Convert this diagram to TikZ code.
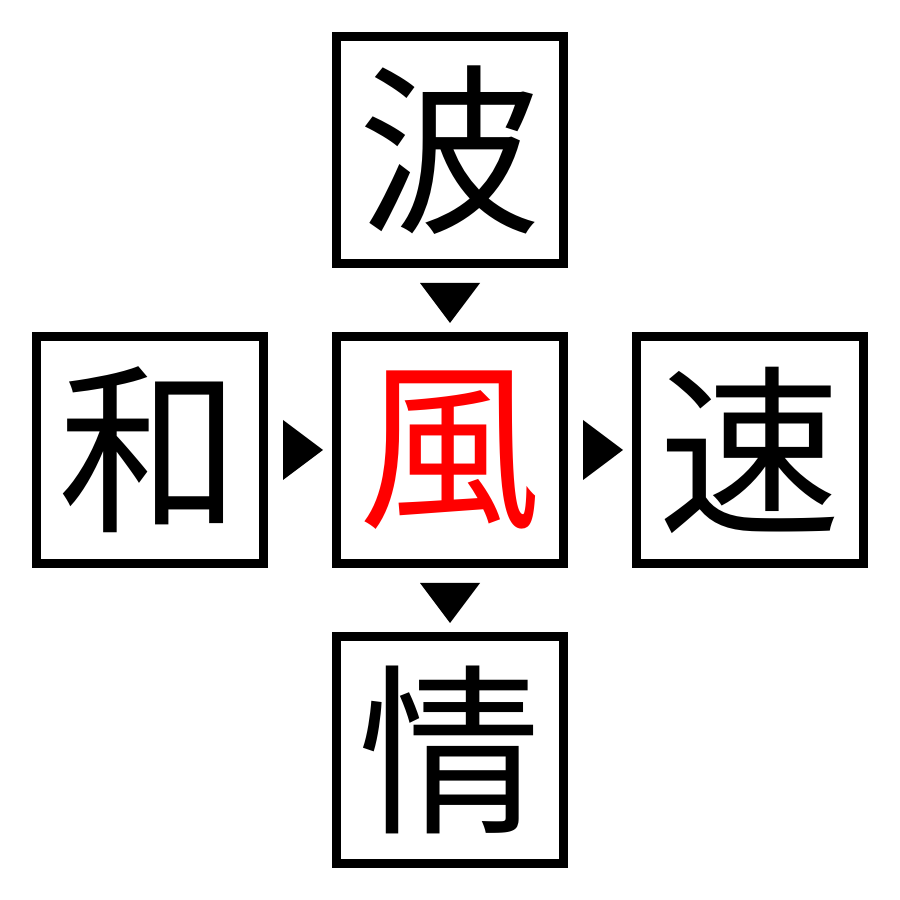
\documentclass[tikz,border=0pt]{standalone}
\usepackage{fontspec}
\usepackage{xcolor}
\newfontfamily\kanji{Noto Sans CJK JP}

\tikzset{
    kbox/.style={draw=black, line width=0.9mm, minimum size=2.27cm, inner sep=0pt,
        font=\kanji\fontsize{52}{52}\selectfont},
    pointer/.style={fill=black}
}

\begin{document}
\begin{tikzpicture}
            \useasboundingbox (0,0) rectangle (9,9);
            \fill[white] (0,0) rectangle (9,9);
            \node[kbox] (nami) at (4.5,7.5) {波};
            \node[kbox] (wa) at (1.5,4.5) {和};
            \node[kbox, text=red] (kaze) at (4.5,4.5) {風};
            \node[kbox] (soku) at (7.5,4.5) {速};
            \node[kbox] (jou) at (4.5,1.5) {情};
            % pointers between boxes
            \fill[pointer] (4.2,6.17) -- (4.8,6.17) -- (4.5,5.77) -- cycle;
            \fill[pointer] (4.2,3.17) -- (4.8,3.17) -- (4.5,2.77) -- cycle;
            \fill[pointer] (2.83,4.8) -- (2.83,4.2) -- (3.23,4.5) -- cycle;
            \fill[pointer] (5.83,4.8) -- (5.83,4.2) -- (6.23,4.5) -- cycle;
        \end{tikzpicture}
\end{document}
